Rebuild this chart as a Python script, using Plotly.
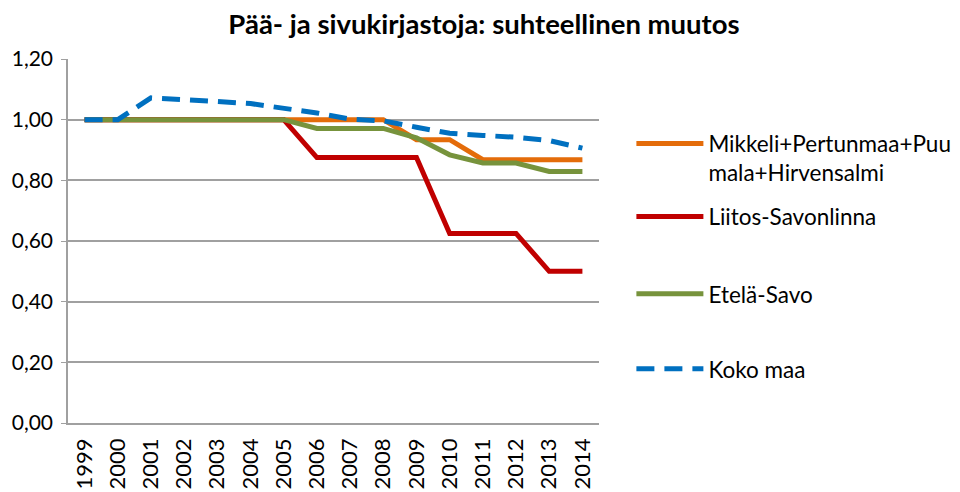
import plotly.graph_objects as go

years = [str(y) for y in range(1999, 2015)]
mikkeli = [1.0, 1.0, 1.0, 1.0, 1.0, 1.0, 1.0, 1.0, 1.0, 1.0, 0.934, 0.934, 0.868, 0.868, 0.868, 0.868]
liitos = [1.0, 1.0, 1.0, 1.0, 1.0, 1.0, 1.0, 0.875, 0.875, 0.875, 0.875, 0.625, 0.625, 0.625, 0.50, 0.50]
etela = [1.0, 1.0, 1.0, 1.0, 1.0, 1.0, 1.0, 0.971, 0.971, 0.971, 0.94, 0.884, 0.857, 0.857, 0.829, 0.829]
koko = [1.0, 1.0, 1.072, 1.068, 1.06, 1.053, 1.038, 1.022, 1.002, 0.996, 0.975, 0.955, 0.948, 0.942, 0.931, 0.906]

names = ["Mikkeli+Pertunmaa+Puu<br>mala+Hirvensalmi", "Liitos-Savonlinna", "Etelä-Savo", "Koko maa"]
colors = ["#E46C0A", "#C00000", "#77933C", "#0070C0"]
series = [mikkeli, liitos, etela, koko]
dashes = ["solid", "solid", "solid", "18px,10px"]
legend_ids = ["legend", "legend2", "legend3", "legend4"]
legend_y = [0.826, 0.566, 0.354, 0.148]

fig = go.Figure()
for i in range(4):
    fig.add_trace(go.Scatter(
        x=years, y=series[i], mode="lines", name=names[i],
        line=dict(color=colors[i], width=5, dash=dashes[i]),
        legend=legend_ids[i], showlegend=True,
    ))

font = "Lato, 'Open Sans', sans-serif"
layout_legends = {}
for lid, ly in zip(legend_ids, legend_y):
    layout_legends[lid] = dict(x=1.061, xanchor="left", y=ly,
                               yanchor="top" if lid == "legend" else "middle",
                               valign="top",
                               bgcolor="rgba(0,0,0,0)",
                               font=dict(family=font, size=22.5, color="#000"), itemwidth=67)

# Page has an 8px body margin; figure coordinates are offset accordingly
fig.update_layout(
    width=960, height=492,
    margin=dict(l=60, r=365, t=51, b=77),
    paper_bgcolor="white", plot_bgcolor="white",
    separators=", ",
    title=dict(text="<b>Pää- ja sivukirjastoja: suhteellinen muutos</b>",
               x=476 / 960, xanchor="center", xref="container",
               y=1 - 7 / 492, yanchor="top", yref="container",
               font=dict(family=font, size=27.5, color="#000")),
    xaxis=dict(type="category", showgrid=False, showline=True, linecolor="#A0A0A0", linewidth=1.5,
               ticks="", tickangle=-90, tickfont=dict(family=font, size=22, color="#000"),
               ticklabelstandoff=5,
               range=[-0.5, 15.5], automargin=False),
    yaxis=dict(range=[0, 1.2], dtick=0.2, tickformat=".2f", showgrid=True, gridcolor="#A0A0A0",
               gridwidth=1.5, showline=True, linecolor="#A0A0A0", linewidth=1.5, ticks="outside",
               ticklen=5, tickcolor="#A0A0A0", tickfont=dict(family=font, size=21, color="#000"),
               ticklabelstandoff=4,
               zeroline=False, automargin=False),
    **layout_legends,
)

fig.write_html("out.html")
